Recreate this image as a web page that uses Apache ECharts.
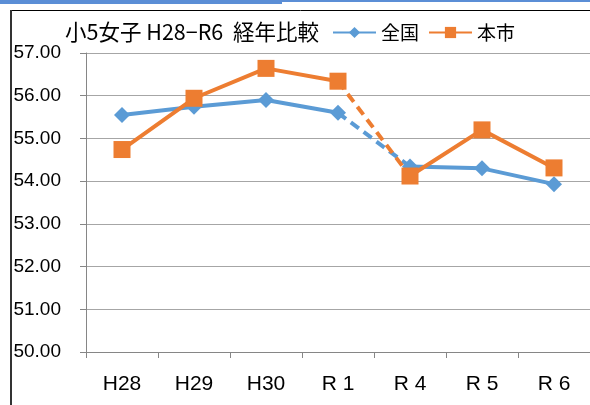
<!DOCTYPE html>
<html><head><meta charset="utf-8">
<script src="https://cdn.jsdelivr.net/npm/echarts@6/dist/echarts.min.js"></script>
<style>html,body{margin:0;padding:0;background:#fff}#c{width:590px;height:405px}</style>
</head><body><div id="c"></div>
<script>
var categories = ['H28','H29','H30','R 1','R 4','R 5','R 6'];
var zenkoku = [55.55, 55.74, 55.90, 55.60, 54.34, 54.30, 53.93];
var honshi  = [54.74, 55.94, 56.64, 56.34, 54.12, 55.20, 54.31];
var yTicks = [50, 51, 52, 53, 54, 55, 56, 57];
var dashFrom = 3, dashTo = 4;

function part(arr, a, b){ return arr.map(function(v,i){ return (i>=a && i<=b) ? v : null; }); }

var BLUE = '#5B9BD5', ORANGE = '#ED7D31';
var font = "'Liberation Sans', Arial, sans-serif";
var jfont = "'Noto Sans CJK JP', sans-serif";

function mk(name, data, color, sym, symSize, solid){
  return {
    name: name, type: 'line', data: data, connectNulls: false,
    symbol: solid ? sym : 'none', symbolSize: symSize, showSymbol: solid,
    lineStyle: {color: color, width: 4, type: solid ? 'solid' : [10,6]},
    itemStyle: {color: color},
    emphasis: {disabled: true}, animation: false, z: color===ORANGE?3:2
  };
}

var chart = echarts.init(document.getElementById('c'));
chart.setOption({
  animation: false,
  title: {text: '小5女子 H28−R6  経年比較', left: 60, top: 16,
    textStyle: {fontFamily: jfont, fontSize: 21.5, fontWeight: 'normal', color: '#000'}},
  legend: {data: ['全国','本市'], left: 327, top: 18, itemWidth: 43, itemHeight: 14, itemGap: 9,
    textStyle: {fontFamily: jfont, fontSize: 19, color: '#000'}},
  graphic: [
    {type:'rect', shape:{x:0,y:0,width:282,height:4}, style:{fill:'#5B8ED6'}},
    {type:'rect', shape:{x:282,y:0,width:308,height:2}, style:{fill:'#5B8ED6'}},
    {type:'line', shape:{x1:11,y1:10.5,x2:590,y2:10.5}, style:{stroke:'#000',lineWidth:1}},
    {type:'line', shape:{x1:11,y1:10,x2:11,y2:405}, style:{stroke:'#333',lineWidth:2}}
  ],
  grid: {left: 86, right: 0, top: 53, bottom: 53},
  xAxis: {type: 'category', data: categories, boundaryGap: true,
    axisLine: {lineStyle: {color: '#868686', width: 1}},
    axisTick: {show: true, length: 6, lineStyle: {color: '#868686'}},
    axisLabel: {fontFamily: font, fontSize: 21, color: '#000', margin: 22}},
  yAxis: {type: 'value', min: 50, max: 57, interval: 1,
    axisLine: {show: true, lineStyle: {color: '#868686'}},
    axisTick: {show: true, length: 6, lineStyle: {color: '#868686'}},
    splitLine: {lineStyle: {color: '#A6A6A6', width: 1}},
    axisLabel: {fontFamily: font, fontSize: 19, color: '#000', margin: 25,
      formatter: function(v){ return v.toFixed(2); }}},
  series: [
    mk('全国', part(zenkoku, 0, dashFrom), BLUE, 'diamond', 16, true),
    mk('全国', part(zenkoku, dashFrom, dashTo), BLUE, 'diamond', 16, false),
    mk('全国', part(zenkoku, dashTo, 6), BLUE, 'diamond', 16, true),
    mk('本市', part(honshi, 0, dashFrom), ORANGE, 'rect', 17, true),
    mk('本市', part(honshi, dashFrom, dashTo), ORANGE, 'rect', 17, false),
    mk('本市', part(honshi, dashTo, 6), ORANGE, 'rect', 17, true)
  ]
});
</script></body></html>
